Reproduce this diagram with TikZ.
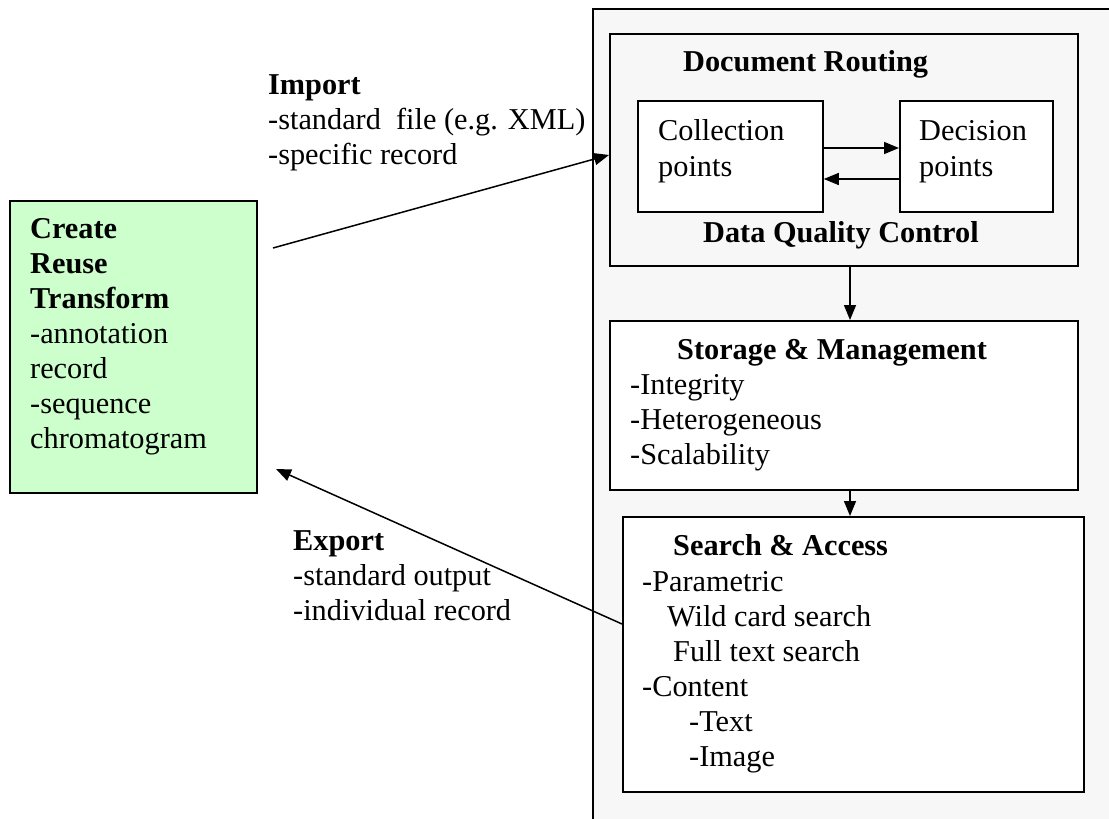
\documentclass[tikz,border=0pt]{standalone}
\usepackage{fontspec}
\setmainfont{Liberation Serif}
\usetikzlibrary{arrows.meta,calc}
\definecolor{greenfill}{HTML}{CCFFCC}
\definecolor{panelfill}{HTML}{F7F7F7}
\begin{document}
\begin{tikzpicture}[x=1pt,y=-1pt,
  txt/.style={font=\fontsize{30.3}{35}\selectfont, inner sep=0pt, anchor=base west},
  ttl/.style={txt, font=\fontsize{30.3}{35}\selectfont\bfseries},
  box/.style={draw=black, line width=1.8pt, inner sep=0pt, anchor=north west, fill=white},
  arr/.style={line width=1.5pt, -{Triangle[length=15pt,width=12pt]}}]
\useasboundingbox (0,0) rectangle (1109,819);
\clip (0,0) rectangle (1109,819);
\fill[white] (0,0) rectangle (1109,819);
% outer panel (open at right and bottom)
\node[box, fill=panelfill, line width=1.5pt, minimum width=560pt, minimum height=860pt] (outer) at (592,8) {};
% boxes
\node[box, fill=greenfill, minimum width=247pt, minimum height=292pt] (green) at (9,200) {};
\node[box, fill=panelfill, minimum width=468pt, minimum height=232pt] (dr) at (609,33) {};
\node[box, minimum width=185pt, minimum height=111pt] (coll) at (637,100) {};
\node[box, minimum width=153pt, minimum height=111pt] (dec) at (899,100) {};
\node[box, minimum width=468pt, minimum height=169pt] (stor) at (609,320) {};
\node[box, minimum width=461pt, minimum height=275pt] (srch) at (622,516) {};
% green box text
\node[ttl] (cr1) at (30,238) {Create};
\node[ttl] (cr2) at (30,273) {Reuse};
\node[ttl] (cr3) at (30,308) {Transform};
\node[txt] (cr4) at (30,343) {-annotation};
\node[txt] (cr5) at (30,378) {record};
\node[txt] (cr6) at (30,413) {-sequence};
\node[txt] (cr7) at (30,448) {chromatogram};
% import label
\node[ttl] (im1) at (268,94) {Import};
\node[txt] (im2) at (268,129) {-standard~~file (e.g. XML)};
\node[txt] (im3) at (268,164) {-specific record};
% export label
\node[ttl] (ex1) at (293,550) {Export};
\node[txt] (ex2) at (293,585) {-standard output};
\node[txt] (ex3) at (293,620) {-individual record};
% document routing
\node[ttl] (drt) at (683,71) {Document Routing};
\node[ttl] (dqc) at (703,242) {Data Quality Control};
\node[txt] (co1) at (658,140) {Collection};
\node[txt] (co2) at (658,176) {points};
\node[txt] (de1) at (919,140) {Decision};
\node[txt] (de2) at (919,176) {points};
% storage
\node[ttl] (st0) at (677,359) {Storage \& Management};
\node[txt] (st1) at (630,394) {-Integrity};
\node[txt] (st2) at (630,429) {-Heterogeneous};
\node[txt] (st3) at (630,464) {-Scalability};
% search
\node[ttl] (se0) at (673,555) {Search \& Access};
\node[txt] (se1) at (642,591) {-Parametric};
\node[txt] (se2) at (667,626) {Wild card search};
\node[txt] (se3) at (673,661) {Full text search};
\node[txt] (se4) at (642,696) {-Content};
\node[txt] (se5) at (689,731) {-Text};
\node[txt] (se6) at (689,766) {-Image};
% connectors
\coordinate (impstart) at (273,248);
\coordinate (exptip) at (276,469);
\draw[arr] (impstart) -- (dr.west |- 0,155);
\draw[arr] (coll.east |- 0,148) -- (dec.west |- 0,148);
\draw[arr] (dec.west |- 0,179) -- (coll.east |- 0,179);
\draw[arr] (dr.south -| 850,0) -- (stor.north -| 850,0);
\draw[arr] (stor.south -| 850,0) -- (srch.north -| 850,0);
\draw[arr] (srch.west |- 0,624) -- (exptip);
\end{tikzpicture}
\end{document}
